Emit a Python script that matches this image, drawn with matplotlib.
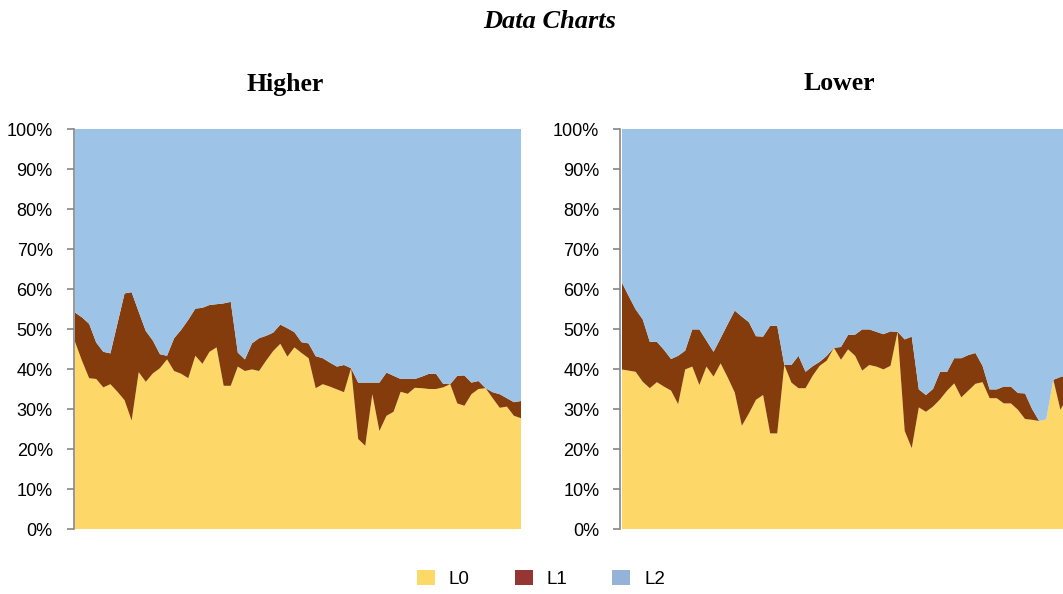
import matplotlib
matplotlib.use("Agg")
import matplotlib.pyplot as plt
from matplotlib.patches import Patch
from matplotlib.ticker import FuncFormatter
import numpy as np

# ---------------- data (percent of total, per period) ----------------
series_names = ["L0", "L1", "L2"]
chart_titles = ["Higher", "Lower"]
suptitle = "Data Charts"

higher_L0 = [46.8, 42.0, 37.7, 37.5, 35.4, 36.2, 34.3, 32.2, 27.1, 39.2,
             36.8, 38.9, 40.2, 42.4, 39.5, 38.8, 37.7, 43.3, 41.3, 44.3,
             45.4, 35.8, 35.8, 40.6, 39.5, 39.9, 39.5, 42.1, 44.5, 46.3,
             43.1, 45.4, 44.0, 42.7, 35.2, 36.2, 35.6, 34.9, 34.2, 40.2,
             22.5, 20.8, 33.7, 24.5, 28.3, 29.3, 34.3, 33.8, 35.3, 35.2,
             35.0, 35.0, 35.4, 36.2, 31.4, 30.8, 33.7, 35.0, 35.2, 32.7,
             30.3, 30.6, 28.3, 27.7]
higher_L1 = [7.3, 10.9, 13.6, 9.1, 8.9, 7.7, 17.1, 26.7, 32.1, 15.1,
             12.7, 8.2, 3.5, 0.9, 8.2, 11.0, 14.6, 11.8, 14.0, 11.7,
             10.8, 20.6, 21.0, 3.5, 2.9, 6.5, 8.2, 6.2, 4.6, 4.8,
             7.1, 3.8, 2.7, 3.7, 8.0, 6.5, 6.0, 5.7, 6.8, 0.0,
             14.1, 15.8, 2.9, 12.1, 10.8, 9.0, 3.2, 3.8, 2.2, 2.9,
             3.8, 3.8, 0.9, 0.0, 6.9, 7.6, 2.9, 2.0, 0.0, 1.5,
             3.4, 2.1, 3.4, 4.3]

lower_L0 = [39.9, 39.6, 39.3, 36.8, 35.2, 36.7, 35.6, 34.6, 31.2, 39.9,
            40.6, 36.0, 40.6, 38.1, 41.4, 37.9, 34.1, 25.8, 28.9, 32.3,
            33.5, 23.9, 23.9, 41.0, 36.6, 35.2, 35.2, 38.3, 40.8, 42.1,
            45.3, 42.3, 44.9, 43.3, 39.6, 41.0, 40.6, 39.9, 40.8, 49.3,
            24.5, 20.2, 30.4, 29.3, 30.6, 32.4, 34.6, 36.4, 32.9, 34.6,
            36.3, 36.7, 32.7, 32.7, 31.4, 31.4, 29.8, 27.5, 27.3, 27.0,
            27.4, 37.3, 29.8, 33.0]
lower_L1 = [21.9, 18.7, 15.6, 15.6, 11.6, 10.1, 9.2, 7.9, 12.1, 4.7,
            9.3, 13.9, 6.5, 6.2, 6.3, 13.3, 20.5, 27.3, 22.8, 15.9,
            14.6, 26.9, 26.9, 0.0, 4.4, 8.1, 4.1, 2.4, 1.0, 1.2,
            0.0, 3.2, 3.6, 5.3, 10.3, 8.9, 8.7, 8.8, 8.6, 0.0,
            22.9, 27.9, 4.5, 4.2, 4.4, 6.9, 4.7, 6.3, 9.8, 8.9,
            7.7, 4.1, 2.2, 2.2, 4.2, 4.2, 4.2, 6.4, 2.7, 0.0,
            0.0, 0.0, 8.2, 5.5]

y_ticks = [0, 10, 20, 30, 40, 50, 60, 70, 80, 90, 100]

# ---------------- styling ----------------
area_colors = ["#FDD868", "#843C0C", "#9DC3E6"]
legend_colors = ["#FCD966", "#963634", "#95B3D7"]
axis_gray = "#868686"

W, H = 1063, 594
fig = plt.figure(figsize=(W / 100, H / 100), dpi=100)
fig.patch.set_facecolor("white")

def px_axes(x0, x1, ytop, ybot):
    return fig.add_axes([x0 / W, 1 - ybot / H, (x1 - x0) / W, (ybot - ytop) / H])

panels = [
    (px_axes(75, 521, 129, 529), higher_L0, higher_L1),
    (px_axes(621.5, 1067.5, 129, 529), lower_L0, lower_L1),
]

for ax, l0, l1 in panels:
    l0 = np.asarray(l0, float)
    l1 = np.asarray(l1, float)
    l2 = 100.0 - l0 - l1
    x = np.arange(len(l0))
    ax.stackplot(x, l0, l1, l2, colors=area_colors, linewidth=0, antialiased=True)
    ax.set_xlim(0, len(l0) - 1)
    ax.set_ylim(0, 100)
    ax.set_yticks(y_ticks)
    ax.yaxis.set_major_formatter(FuncFormatter(lambda v, p: f"{int(round(v))}%"))
    ax.set_xticks([])
    for s in ["top", "right", "bottom"]:
        ax.spines[s].set_visible(False)
    ax.spines["left"].set_color(axis_gray)
    ax.spines["left"].set_linewidth(1.2)
    ax.spines["left"].set_position(("outward", 1))
    ax.tick_params(axis="y", direction="out", length=5, width=1.2,
                   color=axis_gray, pad=10, labelsize=13, labelcolor="black")
    for lab in ax.get_yticklabels():
        lab.set_fontfamily("Liberation Sans")

fig.text(550 / W, 1 - 21 / H, suptitle, ha="center", va="center",
         fontsize=19, fontweight="bold", fontstyle="italic",
         family="Liberation Serif")
fig.text(285 / W, 1 - 84 / H, chart_titles[0], ha="center", va="center",
         fontsize=18.5, fontweight="bold", family="Liberation Serif")
fig.text(839 / W, 1 - 84 / H, chart_titles[1], ha="center", va="center",
         fontsize=18.5, fontweight="bold", family="Liberation Serif")

handles = [Patch(facecolor=c, edgecolor="none", label=n)
           for c, n in zip(legend_colors, series_names)]
leg = fig.legend(handles=handles, loc="center", bbox_to_anchor=(541 / W, 1 - 579 / H),
                 ncol=3, frameon=False, handlelength=0.95, handleheight=0.85,
                 handletextpad=0.75, columnspacing=2.4,
                 prop={"family": "Liberation Sans", "size": 13.5})

fig.savefig("out.png", dpi=100, facecolor="white")
